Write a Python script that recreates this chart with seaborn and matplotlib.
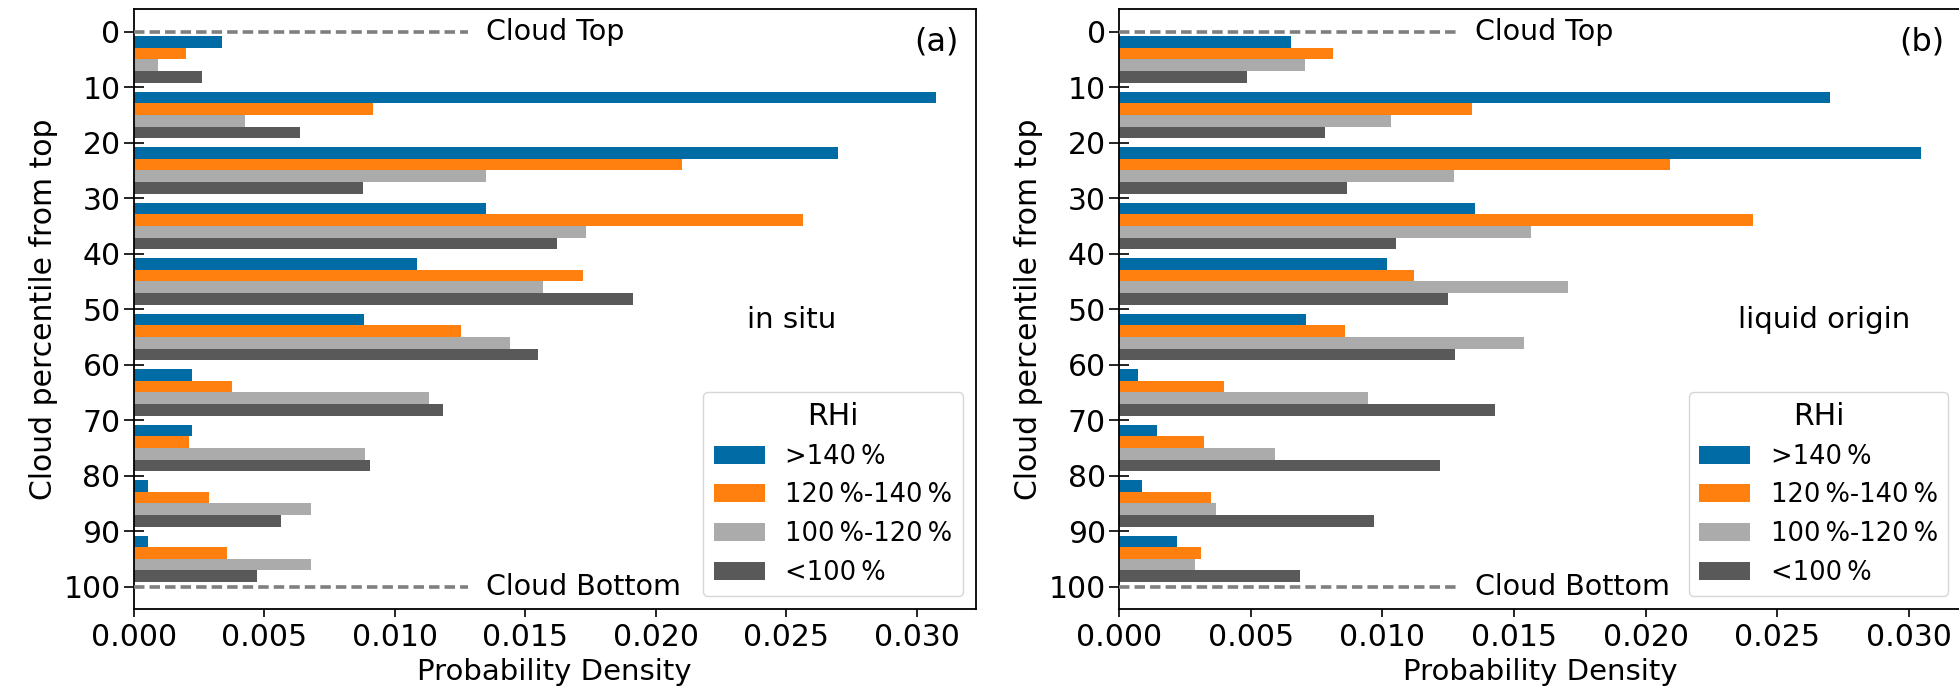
import numpy as np
import pandas as pd
import matplotlib
matplotlib.use("Agg")
import matplotlib.pyplot as plt
import seaborn as sns
from matplotlib.patches import Patch

# ---------------- data ----------------
bin_centers = [5, 15, 25, 35, 45, 55, 65, 75, 85, 95]
rhi_levels = [">140\u2009%", "120\u2009%-140\u2009%", "100\u2009%-120\u2009%", "<100\u2009%"]
rhi_colors = ["#006BA4", "#FF800E", "#ABABAB", "#595959"]

# (a) in situ
insitu_gt140 = [0.00338, 0.03072, 0.02699, 0.01351, 0.01087, 0.00881, 0.00225, 0.00225, 0.00056, 0.00056]
insitu_120_140 = [0.00200, 0.00916, 0.02101, 0.02564, 0.01723, 0.01253, 0.00376, 0.00210, 0.00290, 0.00358]
insitu_100_120 = [0.00092, 0.00428, 0.01349, 0.01733, 0.01569, 0.01441, 0.01133, 0.00885, 0.00678, 0.00680]
insitu_lt100 = [0.00263, 0.00636, 0.00880, 0.01623, 0.01913, 0.01548, 0.01183, 0.00906, 0.00566, 0.00473]

# (b) liquid origin
liquid_gt140 = [0.00654, 0.02700, 0.03047, 0.01350, 0.01017, 0.00711, 0.00072, 0.00145, 0.00087, 0.00218]
liquid_120_140 = [0.00812, 0.01340, 0.02091, 0.02407, 0.01121, 0.00857, 0.00398, 0.00320, 0.00348, 0.00310]
liquid_100_120 = [0.00704, 0.01033, 0.01272, 0.01566, 0.01704, 0.01536, 0.00945, 0.00590, 0.00367, 0.00289]
liquid_lt100 = [0.00486, 0.00782, 0.00865, 0.01050, 0.01250, 0.01274, 0.01426, 0.01219, 0.00968, 0.00686]

panel_tags = ["(a)", "(b)"]
panel_names = ["in situ", "liquid origin"]
ytick_values = [0, 10, 20, 30, 40, 50, 60, 70, 80, 90, 100]
xtick_values = [0.000, 0.005, 0.010, 0.015, 0.020, 0.025, 0.030]


def make_frame(series):
    rows = []
    for level, vals in zip(rhi_levels, series):
        for c, v in zip(bin_centers, vals):
            rows.append({"pct": c, "RHi": level, "density": v})
    return pd.DataFrame(rows)


frames = [
    make_frame([insitu_gt140, insitu_120_140, insitu_100_120, insitu_lt100]),
    make_frame([liquid_gt140, liquid_120_140, liquid_100_120, liquid_lt100]),
]

# ---------------- figure ----------------
W, H = 1959, 695
fig = plt.figure(figsize=(W / 100, H / 100), dpi=100)
axes_boxes = [
    [133.7 / W, (H - 609.3) / H, 842 / W, 600.3 / H],
    [1119.3 / W, (H - 609.3) / H, 842 / W, 600.3 / H],
]

for i, (df, box) in enumerate(zip(frames, axes_boxes)):
    ax = fig.add_axes(box)
    sns.barplot(
        data=df, x="density", y="pct", hue="RHi", hue_order=rhi_levels,
        palette=rhi_colors, orient="h", native_scale=True, width=0.84,
        saturation=1, errorbar=None, legend=False, ax=ax,
    )
    ax.set_ylim(104.1, -4.1)
    ax.set_yticks(ytick_values)
    ax.set_yticklabels([str(v) for v in ytick_values])
    ax.set_xticks(xtick_values)
    ax.set_xticklabels([f"{v:.3f}" for v in xtick_values])
    ax.set_xlim(left=0)

    ax.hlines([0, 100], 0, 0.0128, colors="#7f7f7f",
              linestyles=[(0, (2.9, 1.4))], linewidth=2.6, zorder=3)
    ax.text(0.0135, 0, "Cloud Top", ha="left", va="center", fontsize=20.5)
    ax.text(0.0135, 100, "Cloud Bottom", ha="left", va="center", fontsize=20.5)
    ax.text(0.0235, 52, panel_names[i], ha="left", va="center", fontsize=21)
    ax.text(0.98, 0.945, panel_tags[i], ha="right", va="center",
            fontsize=23, transform=ax.transAxes)

    ax.set_xlabel("Probability Density", fontsize=21)
    ax.set_ylabel("Cloud percentile from top", fontsize=21.5)

    ax.tick_params(axis="y", direction="inout", length=15, width=1.2,
                   labelsize=21.5, pad=2)
    ax.tick_params(axis="x", direction="out", length=6, width=1.2,
                   labelsize=21.5, pad=4)
    for sp in ax.spines.values():
        sp.set_linewidth(1.3)
        sp.set_color("black")

    handles = [Patch(facecolor=c, edgecolor="none") for c in rhi_colors]
    leg = ax.legend(handles, rhi_levels, title="RHi", loc="lower right",
                    fontsize=18.5, title_fontsize=21.5, framealpha=0.8)

fig.savefig("out.png", dpi=100)
